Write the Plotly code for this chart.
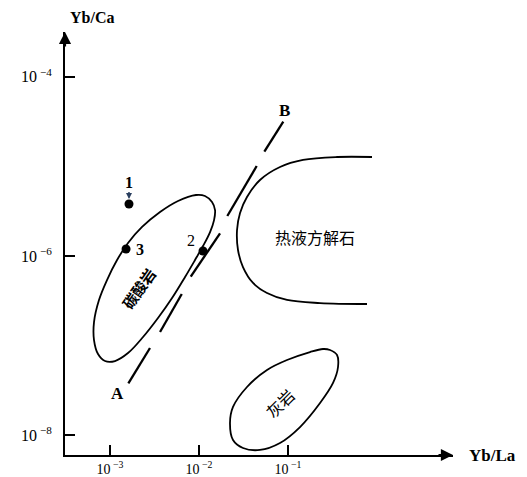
import numpy as np
import plotly.graph_objects as go

# ---- data (log10 coordinates) ----
x_tick_vals = [1e-3, 1e-2, 1e-1]
x_tick_text = ["10<sup> −3</sup>", "10<sup> −2</sup>", "10<sup> −1</sup>"]
y_tick_vals = [1e-8, 1e-6, 1e-4]
y_tick_text = ["10<sup> −8</sup>", "10<sup> −6</sup>", "10<sup> −4</sup>"]

# carbonatite field (closed)
carb_lx = [-2.034, -1.933, -1.854, -1.820, -1.831, -1.876, -1.955, -2.045, -2.157, -2.303,
           -2.461, -2.629, -2.798, -2.944, -3.056, -3.135, -3.180, -3.180, -3.124, -3.034,
           -2.921, -2.798, -2.640, -2.438, -2.236, -2.034]
carb_ly = [-5.320, -5.331, -5.398, -5.488, -5.600, -5.734, -5.890, -6.046, -6.235, -6.470,
           -6.693, -6.905, -7.084, -7.173, -7.173, -7.095, -6.939, -6.738, -6.492, -6.269,
           -6.046, -5.856, -5.677, -5.510, -5.387, -5.320]

# hydrothermal calcite field (open)
hydro_lx = [-0.056, -0.449, -0.831, -1.090, -1.315, -1.461, -1.539, -1.573, -1.562, -1.506,
            -1.393, -1.236, -1.011, -0.640, -0.112]
hydro_ly = [-4.896, -4.896, -4.929, -5.008, -5.153, -5.343, -5.521, -5.711, -5.934, -6.124,
            -6.302, -6.414, -6.492, -6.526, -6.537]

# limestone field (closed)
lime_lx = [-0.865, -0.640, -0.494, -0.438, -0.449, -0.528, -0.607, -0.753, -1.011, -1.236,
           -1.461, -1.618, -1.652, -1.618, -1.506, -1.315, -1.090, -0.865]
lime_ly = [-7.910, -7.642, -7.418, -7.240, -7.106, -7.050, -7.039, -7.073, -7.162, -7.273,
           -7.463, -7.686, -7.865, -8.055, -8.144, -8.166, -8.088, -7.910]

# dashed line A-B, dash end points
dash_lx = [[-1.053, -1.266], [-1.352, -1.682], [-1.764, -2.093], [-2.194, -2.438], [-2.551, -2.794]]
dash_ly = [[-4.502, -4.837], [-4.997, -5.555], [-5.748, -6.232], [-6.425, -6.849], [-7.028, -7.422]]

# samples
pt_names = ["1", "2", "3"]
pt_lx = [-2.787, -1.955, -2.820]
pt_ly = [-5.421, -5.945, -5.923]

SERIF = "Liberation Serif"
CJK = "Noto Sans CJK SC"

fig = go.Figure()


def curve(lx, ly):
    fig.add_trace(go.Scatter(
        x=10 ** np.array(lx), y=10 ** np.array(ly), mode="lines",
        line=dict(color="black", width=1.8, shape="spline", smoothing=1.0),
        hoverinfo="skip"))


curve(carb_lx, carb_ly)
curve(hydro_lx, hydro_ly)
curve(lime_lx, lime_ly)

dx, dy = [], []
for sx, sy in zip(dash_lx, dash_ly):
    dx += [10 ** v for v in sx] + [None]
    dy += [10 ** v for v in sy] + [None]
fig.add_trace(go.Scatter(x=dx, y=dy, mode="lines",
                         line=dict(color="black", width=2.3), hoverinfo="skip"))

fig.add_trace(go.Scatter(x=10 ** np.array(pt_lx), y=10 ** np.array(pt_ly), mode="markers",
                         marker=dict(color="black", size=9), hoverinfo="skip"))

ann = []
# point labels
ann.append(dict(x=pt_lx[0], y=pt_ly[0], xref="x", yref="y", text="<b>1</b>",
                showarrow=True, ax=0, ay=-22, arrowhead=2, arrowsize=0.8, arrowwidth=1.5,
                standoff=5, font=dict(family=SERIF, size=16, color="black")))
ann.append(dict(x=pt_lx[1] - 0.13, y=pt_ly[1] + 0.12, xref="x", yref="y", text="2",
                showarrow=False, font=dict(family=SERIF, size=16, color="black")))
ann.append(dict(x=pt_lx[2] + 0.16, y=pt_ly[2], xref="x", yref="y", text="<b>3</b>",
                showarrow=False, font=dict(family=SERIF, size=16, color="black")))
# line ends
ann.append(dict(x=-2.921, y=-7.53, xref="x", yref="y", text="<b>A</b>", showarrow=False,
                font=dict(family=SERIF, size=17, color="black")))
ann.append(dict(x=-1.034, y=-4.379, xref="x", yref="y", text="<b>B</b>", showarrow=False,
                font=dict(family=SERIF, size=17, color="black")))
# field names
ann.append(dict(x=-2.682, y=-6.362, xref="x", yref="y", text="<b>碳酸岩</b>", showarrow=False,
                textangle=-55, font=dict(family=CJK, size=15, color="black")))
ann.append(dict(x=-0.697, y=-5.786, xref="x", yref="y", text="热液方解石", showarrow=False,
                font=dict(family=CJK, size=16, color="black")))
ann.append(dict(x=-1.09, y=-7.645, xref="x", yref="y", text="灰岩", showarrow=False,
                textangle=-45, font=dict(family=CJK, size=16, color="black")))
# axis titles (positions given in page pixels, converted below)
ann.append(dict(x=92, y=477 - 18, xref="paper", yref="paper", text="<b>Yb/Ca</b>",
                showarrow=False, font=dict(family=SERIF, size=16, color="black")))
ann.append(dict(x=492, y=477 - 456, xref="paper", yref="paper", text="<b>Yb/La</b>",
                showarrow=False, font=dict(family=SERIF, size=17, color="black")))
# arrow heads on axes
ann.append(dict(x=0, y=1, xref="paper", yref="paper", text="", showarrow=True,
                ax=0, ay=16, arrowhead=2, arrowsize=1.1, arrowwidth=2.2, arrowcolor="black"))
ann.append(dict(x=1, y=0, xref="paper", yref="paper", text="", showarrow=True,
                ax=-16, ay=0, arrowhead=2, arrowsize=1.1, arrowwidth=2.2, arrowcolor="black"))

# page has an 8px body margin: figure is offset by 8px
OFF = 8
W, H = 527 - OFF, 477 - OFF
L, T = 65 - OFF, 32 - OFF
R, B = 74, 22
pw, ph = W - L - R, H - T - B
for a in ann:
    if a["xref"] == "paper" and a["x"] > 1.5:
        a["x"] = (a["x"] - OFF - L) / pw
        a["y"] = (a["y"] - B) / ph
        a["xanchor"] = "center"
        a["yanchor"] = "middle"

axis_common = dict(type="log", showgrid=False, zeroline=False, showline=True,
                   linecolor="black", linewidth=2, ticks="inside", ticklen=10,
                   tickwidth=1.5, tickcolor="black", automargin=False)

fig.update_layout(
    width=W, height=H, margin=dict(l=L, r=R, t=T, b=B, autoexpand=False),
    paper_bgcolor="white", plot_bgcolor="white", showlegend=False,
    xaxis=dict(range=[-3.506, 0.854], tickvals=x_tick_vals, ticktext=x_tick_text,
               ticklabelstandoff=0, tickfont=dict(family=SERIF, size=14, color="black"),
               **axis_common),
    yaxis=dict(range=[-8.222, -3.501], tickvals=y_tick_vals, ticktext=y_tick_text,
               ticklabelstandoff=8, tickfont=dict(family=SERIF, size=16, color="black"),
               **axis_common),
    annotations=ann,
)

fig.write_html("out.html")
